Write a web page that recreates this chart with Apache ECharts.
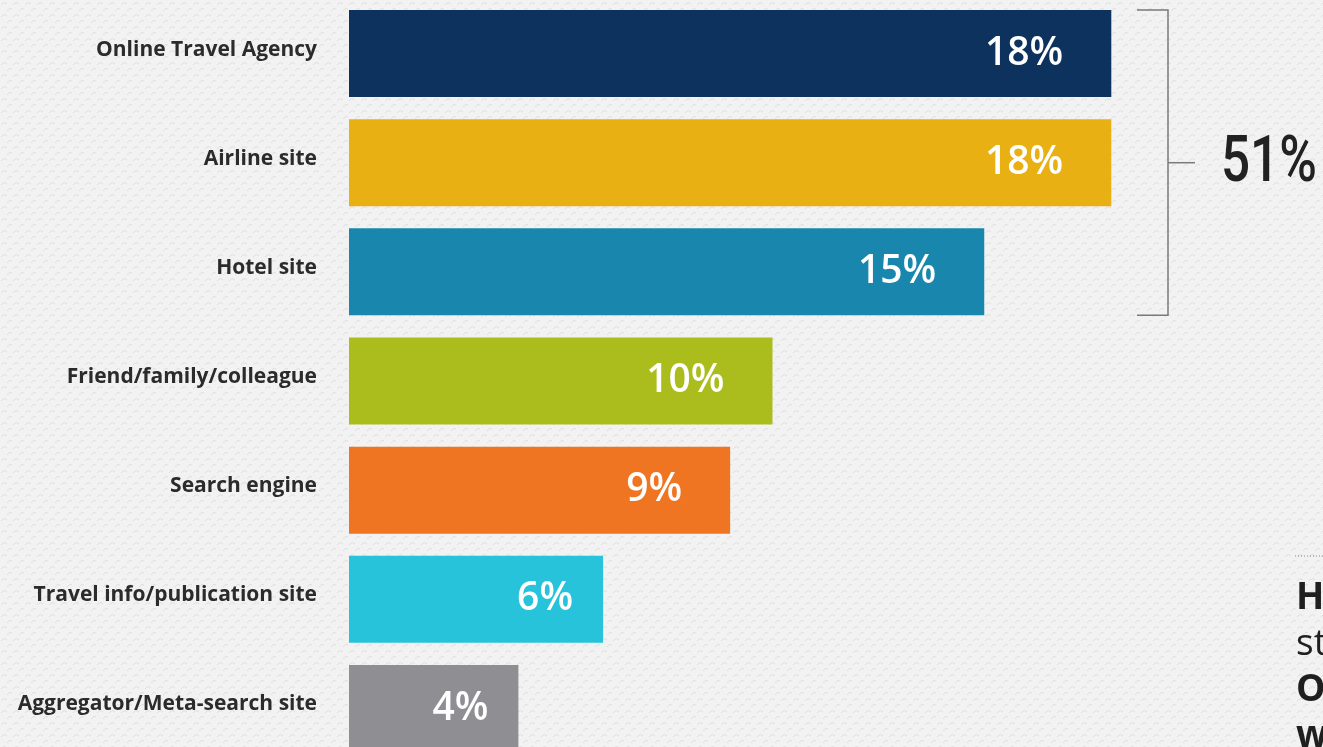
<!DOCTYPE html>
<html>
<head>
<meta charset="utf-8">
<script src="https://cdn.jsdelivr.net/npm/echarts@6/dist/echarts.min.js"></script>
<style>
  html, body { margin: 0; padding: 0; background: #efefef; }
  #chart { width: 1323px; height: 747px; }
</style>
</head>
<body>
<div id="chart"></div>
<script>
// Where travellers start their booking search (share of respondents, %)
const categories = [
  'Online Travel Agency',
  'Airline site',
  'Hotel site',
  'Friend/family/colleague',
  'Search engine',
  'Travel info/publication site',
  'Aggregator/Meta-search site'
];
const shares = [18, 18, 15, 10, 9, 6, 4];
const barColors = ['#0d325e', '#e9b014', '#1886ad', '#aabd1c', '#f07522', '#26c3da', '#8e8e93'];
// The first three sources are bracketed together with their combined share
const bracketCount = 3;
const bracketTotal = '51%';
// Fragments of the neighbouring panel's heading that show at the right edge
const sideLines = [
  { text: 'H', bold: true },
  { text: 'st', bold: false },
  { text: 'O', bold: true },
  { text: 'w', bold: true }
];

// A faint woven texture for the page background
function makeTexture() {
  const c = document.createElement('canvas');
  c.width = 12; c.height = 12;
  const g = c.getContext('2d');
  g.fillStyle = '#f2f2f2';
  g.fillRect(0, 0, 12, 12);
  g.strokeStyle = 'rgba(205,205,205,0.55)';
  g.lineWidth = 1;
  g.beginPath();
  g.moveTo(1, 5); g.quadraticCurveTo(4, 1, 7, 4);
  g.moveTo(7, 11); g.quadraticCurveTo(10, 7, 12, 9);
  g.stroke();
  return c;
}

const chart = echarts.init(document.getElementById('chart'), null, { renderer: 'canvas' });
const BAR_W = 87;

chart.setOption({
  backgroundColor: { image: makeTexture(), repeat: 'repeat' },
  animation: false,
  grid: { left: 349, right: 127, top: -1, bottom: -16, containLabel: false, outerBoundsMode: 'none' },
  xAxis: { type: 'value', min: 0, max: 20, show: false },
  yAxis: {
    type: 'category', data: categories, inverse: true,
    axisLine: { show: false }, axisTick: { show: false },
    axisLabel: {
      margin: 32,
      formatter: v => '{t|' + v + '}',
      rich: {
        t: {
          fontFamily: '"Open Sans", sans-serif', fontWeight: 'bold',
          fontSize: 21, color: '#2b2b2b', padding: [0, 0, 8, 0]
        }
      }
    }
  },
  series: [{
    type: 'bar',
    barWidth: BAR_W,
    data: shares.map((v, i) => ({
      value: v,
      itemStyle: { color: barColors[i] },
      label: { distance: v >= 9 ? 48 : 30 }
    })),
    label: {
      show: true, position: 'insideRight',
      formatter: '{c}%', color: '#ffffff',
      fontFamily: '"Open Sans", sans-serif', fontWeight: 600, fontSize: 39
    }
  }]
});

// Bracket and combined share, placed from the axis scales
const topY = chart.convertToPixel({ yAxisIndex: 0 }, 0) - BAR_W / 2;
const botY = chart.convertToPixel({ yAxisIndex: 0 }, bracketCount - 1) + BAR_W / 2;
const midY = (topY + botY) / 2;
const bx = 1168, armL = 1137, tickR = 1195;
const lineStyle = { stroke: '#7a7a7a', lineWidth: 1.5 };

const graphics = [
  { type: 'polyline', shape: { points: [[armL, topY], [bx, topY], [bx, botY], [armL, botY]] }, style: Object.assign({ fill: null }, lineStyle) },
  { type: 'line', shape: { x1: bx, y1: midY, x2: tickR, y2: midY }, style: lineStyle },
  { type: 'text', x: 1221, y: midY + 2, scaleX: 0.8, style: {
      text: bracketTotal, fill: '#222222', fontSize: 64, fontWeight: 500,
      fontFamily: 'Roboto, sans-serif',
      verticalAlign: 'middle', align: 'left'
  } },
  { type: 'line', shape: { x1: 1295, y1: 556, x2: 1323, y2: 556 }, style: { stroke: '#888', lineWidth: 1, lineDash: [1, 2] } }
];
sideLines.forEach((ln, i) => {
  graphics.push({ type: 'text', x: 1296, y: 598 + i * 46, style: {
    text: ln.text, fill: '#1f1f1f', fontSize: 37,
    fontWeight: ln.bold ? 'bold' : 'normal',
    fontFamily: '"Open Sans", sans-serif', verticalAlign: 'middle', align: 'left'
  } });
});
chart.setOption({ graphic: graphics });
</script>
</body>
</html>
